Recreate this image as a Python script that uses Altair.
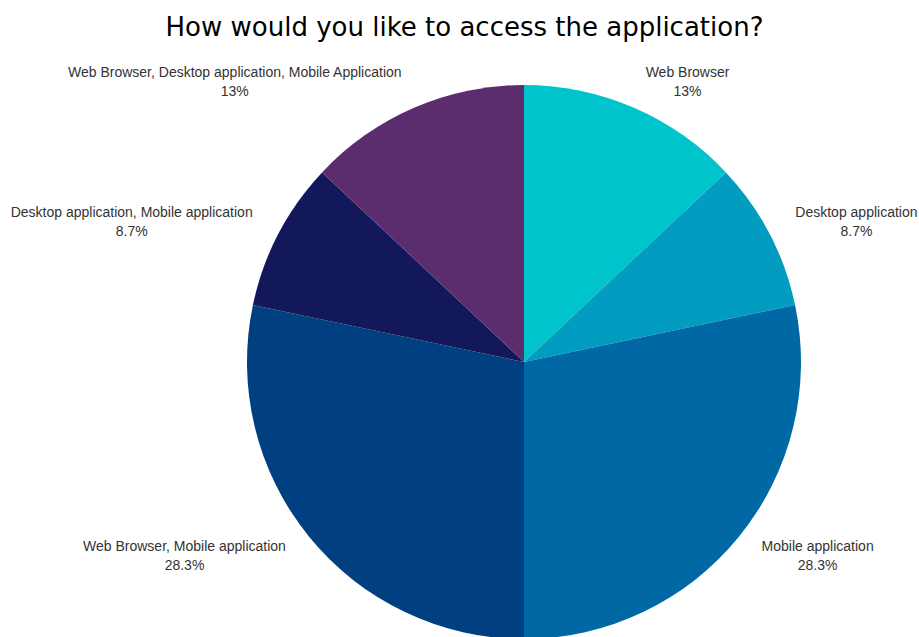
import math
import altair as alt
import pandas as pd

categories = [
    "Web Browser",
    "Desktop application",
    "Mobile application",
    "Web Browser, Mobile application",
    "Desktop application, Mobile application",
    "Web Browser, Desktop application, Mobile Application",
]
values = [13.0, 8.7, 28.3, 28.3, 8.7, 13.0]
pct_labels = ["13%", "8.7%", "28.3%", "28.3%", "8.7%", "13%"]
colors = ["#00C4CC", "#019CC0", "#0069A5", "#003F80", "#12185A", "#5B2C6E"]

# layout constants
W, H = 919, 587          # view size (top padding holds the title)
CX, CY = 524, 312        # pie centre inside the view
R_PIE = 277
R_LABEL = 306
FONT = 14

# Arial / Liberation Sans advance widths (1/1000 em) to centre two-line labels
AW = {" ": 278, ",": 278, ".": 278, "%": 889, "A": 667, "B": 667, "D": 722,
      "M": 833, "W": 944, "a": 556, "b": 556, "c": 500, "e": 556, "i": 222,
      "k": 500, "l": 222, "n": 556, "o": 556, "p": 556, "r": 333, "s": 500,
      "t": 278, "w": 722}


def text_width(s):
    return sum(AW.get(ch, 556) for ch in s) * FONT / 1000.0


total = sum(values)
rows = []
cum = 0.0
for i, (c, v, p) in enumerate(zip(categories, values, pct_labels)):
    mid = (cum + v / 2) / total * 2 * math.pi
    cum += v
    ax = R_LABEL * math.sin(mid)
    ay = R_LABEL * math.cos(mid)
    side = 1 if math.sin(mid) >= 0 else -1
    half = max(text_width(c), text_width(p)) / 2
    rows.append({"category": c, "value": v, "pct": p, "order": i,
                 "lx": ax + side * half, "ly": ay})
df = pd.DataFrame(rows)

color_scale = alt.Scale(domain=categories, range=colors)

pie = alt.Chart(df).mark_arc(outerRadius=R_PIE, strokeWidth=0).encode(
    theta=alt.Theta("value:Q", stack=True),
    color=alt.Color("category:N", scale=color_scale, legend=None),
    order=alt.Order("order:Q"),
    x=alt.value(CX),
    y=alt.value(CY),
)

xs = alt.Scale(domain=[-CX, W - CX], range=[0, W], nice=False, zero=False)
ys = alt.Scale(domain=[CY - H, CY], range=[H, 0], nice=False, zero=False)

name_text = alt.Chart(df).mark_text(
    font="Liberation Sans", fontSize=FONT, color="#333333",
    align="center", baseline="alphabetic", dy=-4,
).encode(
    x=alt.X("lx:Q", scale=xs, axis=None),
    y=alt.Y("ly:Q", scale=ys, axis=None),
    text="category:N",
)

pct_text = alt.Chart(df).mark_text(
    font="Liberation Sans", fontSize=FONT, color="#333333",
    align="center", baseline="alphabetic", dy=15,
).encode(
    x=alt.X("lx:Q", scale=xs, axis=None),
    y=alt.Y("ly:Q", scale=ys, axis=None),
    text="pct:N",
)

chart = alt.layer(pie, name_text, pct_text).properties(
    width=W,
    height=H,
    background="white",
    title=alt.TitleParams(
        "How would you like to access the application?",
        font="DejaVu Sans", fontSize=26, fontWeight="normal", color="#000000",
        anchor="middle", offset=9, dx=5,
    ),
    autosize=alt.AutoSizeParams(type="none"),
    padding={"left": 0, "top": 50, "right": 0, "bottom": 0},
).configure_view(strokeWidth=0, stroke=None)

chart.save("out.html", embed_options={"renderer": "svg", "actions": False})
